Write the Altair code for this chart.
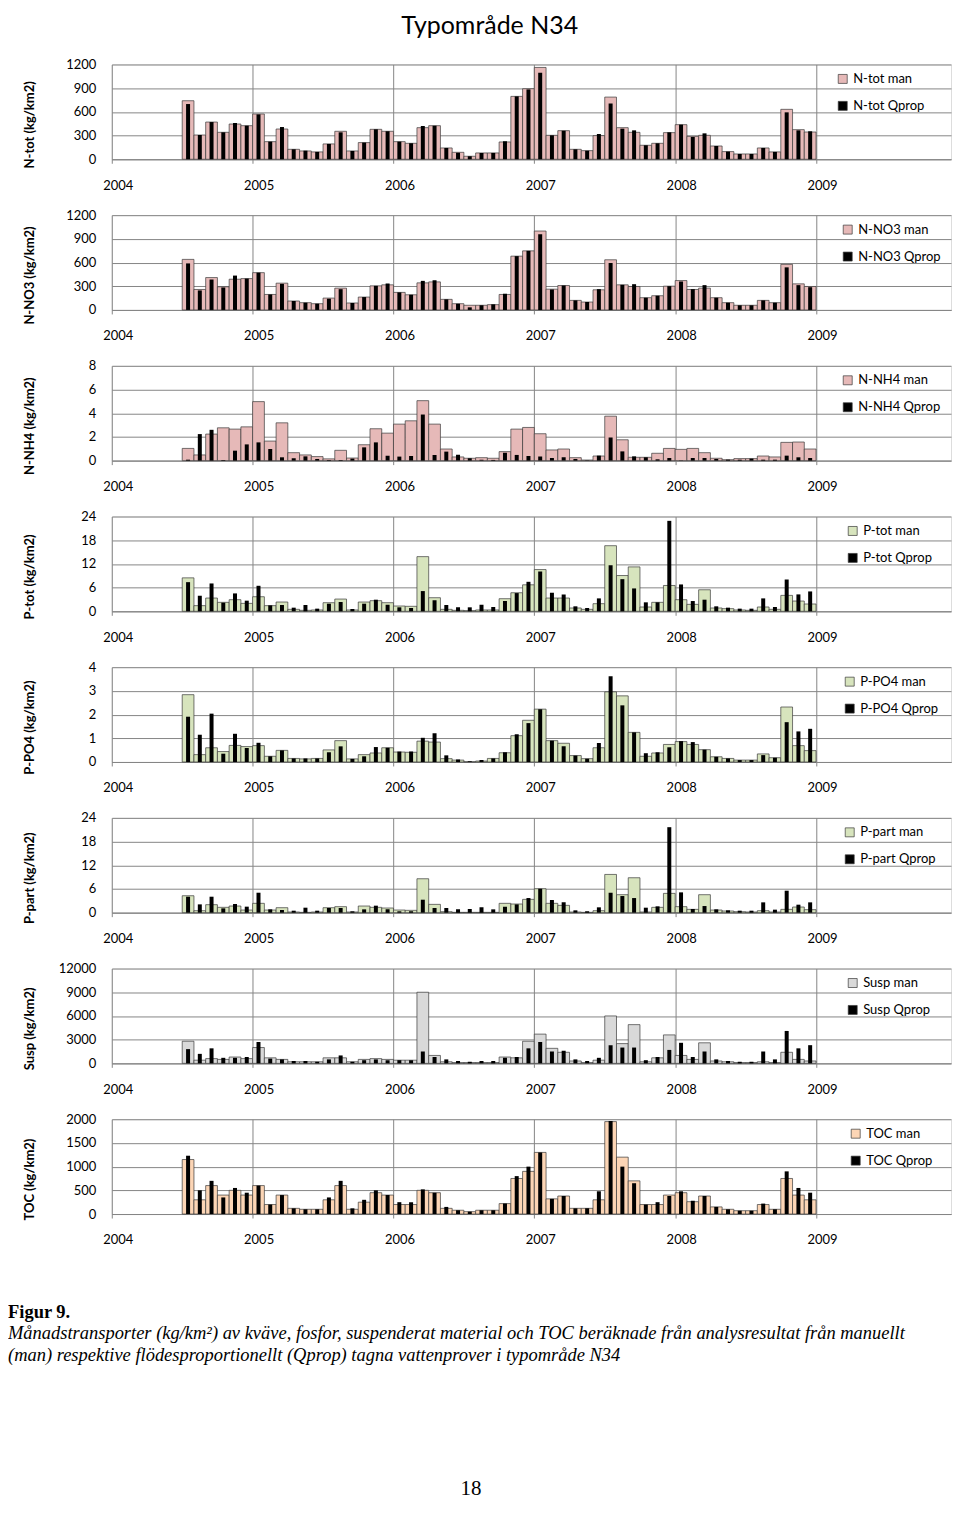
import altair as alt
import pandas as pd

# Months Jul 2004 .. Dec 2008 (offset in months from Jan 2004)
first_month = 6
n_months = 54

ntot_man = [741,307,471,341,446,425,573,223,383,126, 105,93,194,354,105,211,379,354,223,202,
            400,425,143,88,38,80,80,219,796,893, 1162,303,362,126,109,299,787,400,341,177,
            202,337,438,290,303,168,97,67,67,143, 93,632,375,345]
ntot_q = [699,307,471,341,459,425,568,223,408,126, 109,93,194,341,105,211,379,354,223,202,
          421,425,143,84,38,80,80,227,796,884, 1095,303,362,126,109,320,707,387,366,177,
          202,341,438,282,328,168,97,67,67,143, 93,594,366,354]

no3_man = [640,259,410,293,389,397,472,196,339,113, 92,79,150,276,88,163,305,318,222,192,
           343,355,134,79,59,59,67,196,681,748, 999,263,309,121,100,255,635,318,297,155,
           180,301,372,259,276,155,92,59,59,121, 92,577,330,297]
no3_q = [589,247,385,284,435,397,472,196,330,113, 92,79,142,263,88,163,305,334,222,192,
         368,376,134,79,33,59,71,205,681,748, 957,259,309,121,100,263,594,318,326,155,
         180,301,360,263,314,155,92,59,59,121, 92,539,314,288]

nh4_man = [1.03,0.48,2.24,2.77,2.66,2.85,4.98,1.65,3.19,0.67, 0.48,0.34,0.15,0.87,0.22,1.34,2.69,2.32,3.08,3.36,
           5.06,3.08,0.98,0.31,0.20,0.25,0.20,0.76,2.66,2.80, 2.27,0.90,0.98,0.25,0.05,0.39,3.75,1.76,0.28,0.28,
           0.62,1.03,0.95,1.03,0.67,0.20,0.08,0.17,0.17,0.39, 0.31,1.54,1.57,0.98]
nh4_q = [0.08,2.24,2.60,0.05,0.84,1.37,1.54,0.98,0.28,0.20, 0.36,0.14,0.05,0.05,0.17,1.12,1.54,0.42,0.34,0.39,
         3.89,0.48,0.76,0.50,0.20,0.08,0.06,0.67,0.48,0.39, 0.34,0.22,0.28,0.14,0.03,0.42,1.96,0.78,0.36,0.28,
         0.11,0.22,0.02,0.22,0.22,0.14,0.08,0.08,0.17,0.08, 0.08,0.42,0.28,0.22]

ptot_man = [8.47,1.43,3.36,2.27,2.94,2.01,3.69,1.43,2.35,0.50, 0.25,0.34,2.18,3.10,0.34,2.35,2.69,2.18,1.34,1.26,
            13.84,3.44,0.50,0.25,0.17,0.34,0.34,3.19,4.70,6.71, 10.57,3.36,3.36,0.84,0.50,1.93,16.61,9.06,11.24,1.09,
            2.27,6.54,2.94,1.76,5.45,0.84,0.67,0.34,0.25,1.09, 0.50,4.03,2.60,1.85]
ptot_q = [7.38,3.94,7.05,2.18,4.53,2.69,6.46,1.51,1.59,0.92, 1.59,0.67,1.93,2.35,0.59,1.93,2.94,1.68,1.01,0.84,
          5.12,2.77,1.59,1.01,1.01,1.68,1.09,2.60,4.61,7.47, 10.07,4.70,4.28,1.26,0.84,3.27,11.66,8.14,5.79,2.27,
          2.27,22.9,6.80,2.60,2.94,1.26,0.92,0.67,0.67,3.27, 1.09,8.05,4.28,5.03]

po4_man = [2.84,0.31,0.60,0.44,0.70,0.65,0.69,0.24,0.49,0.15, 0.13,0.15,0.51,0.90,0.13,0.31,0.38,0.60,0.42,0.41,
           0.88,0.84,0.14,0.08,0.01,0.04,0.15,0.39,1.11,1.76, 2.23,0.90,0.79,0.27,0.14,0.60,2.96,2.79,1.25,0.24,
           0.38,0.74,0.86,0.74,0.52,0.22,0.15,0.08,0.08,0.34, 0.18,2.32,0.69,0.48]
po4_q = [1.91,1.15,2.04,0.35,1.19,0.59,0.81,0.24,0.49,0.15, 0.15,0.15,0.41,0.66,0.13,0.24,0.63,0.60,0.44,0.44,
         1.02,1.21,0.28,0.11,0.03,0.08,0.15,0.41,1.17,1.64, 2.23,0.90,0.66,0.27,0.14,0.80,3.62,2.39,1.25,0.37,
         0.41,0.62,0.88,0.84,0.52,0.22,0.15,0.08,0.08,0.29, 0.18,1.68,1.29,1.40]

ppart_man = [4.29,0.50,2.02,1.35,1.68,0.67,2.36,0.67,1.26,0.17, 0.08,0.17,1.26,1.52,0.17,1.68,1.35,1.18,0.67,0.59,
             8.59,2.10,0.25,0.08,0.08,0.08,0.08,2.36,2.19,3.37, 6.06,2.36,1.85,0.17,0.08,0.50,9.68,4.55,8.84,0.17,
             1.35,4.88,1.52,0.84,4.55,0.67,0.42,0.25,0.17,0.50, 0.17,0.84,1.43,0.76]
ppart_q = [4.04,2.10,4.04,1.09,2.19,1.52,5.05,0.84,0.67,0.50, 1.26,0.50,1.18,1.18,0.34,0.84,1.77,0.84,0.34,0.34,
           3.28,1.18,1.18,0.84,0.93,1.35,0.84,1.52,2.10,3.70, 6.06,3.20,2.61,0.59,0.34,1.35,5.05,4.21,3.70,1.26,
           1.60,21.64,5.14,0.93,1.68,0.84,0.59,0.50,0.50,2.61, 0.76,5.56,2.02,2.61]

susp_man = [2800,400,600,500,800,600,2000,700,500,200, 200,200,700,700,200,500,600,500,400,400,
            9000,1000,200,100,100,100,100,800,700,2800, 3700,1900,1400,300,100,400,6000,2500,4900,200,
            700,3600,1000,500,2600,300,200,100,100,200, 100,1400,500,300]
susp_q = [1800,1200,1900,700,700,800,2700,600,500,300, 300,200,500,1000,200,400,500,400,400,400,
          1500,800,500,300,200,300,300,700,800,1900, 2700,1500,1600,500,300,700,2300,2000,2000,400,
          800,1700,2600,800,1500,500,300,200,200,1500, 500,4100,1900,2300]

toc_man = [1150,300,600,400,500,400,600,200,400,120, 100,100,300,600,100,250,450,400,200,200,
           500,450,120,80,50,80,80,220,750,900, 1300,320,380,120,120,300,1950,1200,700,200,
           200,400,450,260,380,150,100,70,70,200, 100,750,400,300]
toc_q = [1230,500,700,350,550,450,600,200,400,120, 100,100,350,700,120,300,500,400,250,250,
         520,450,150,80,50,80,80,220,800,1000, 1300,320,380,120,120,480,1960,1000,650,200,
         250,380,480,280,380,150,100,70,70,220, 100,900,550,450]

year_ticks = [0, 12, 24, 36, 48, 60]

PINK = "#E6B9B8"
GREEN = "#D7E4BD"
GRAY = "#D9D9D9"
PEACH = "#FCD5B5"
GRID = "#868686"
FONT = "Lato"

panels = [
    ("N-tot (kg/km2)", "N-tot man", "N-tot Qprop", ntot_man, ntot_q, PINK, [0, 300, 600, 900, 1200], 726),
    ("N-NO3 (kg/km2)", "N-NO3 man", "N-NO3 Qprop", no3_man, no3_q, PINK, [0, 300, 600, 900, 1200], 731),
    ("N-NH4 (kg/km2)", "N-NH4 man", "N-NH4 Qprop", nh4_man, nh4_q, PINK, [0, 2, 4, 6, 8], 731),
    ("P-tot (kg/km2)", "P-tot man", "P-tot Qprop", ptot_man, ptot_q, GREEN, [0, 6, 12, 18, 24], 736),
    ("P-PO4 (kg/km2)", "P-PO4 man", "P-PO4 Qprop", po4_man, po4_q, GREEN, [0, 1, 2, 3, 4], 733),
    ("P-part (kg/km2)", "P-part man", "P-part Qprop", ppart_man, ppart_q, GREEN, [0, 6, 12, 18, 24], 733),
    ("Susp (kg/km2)", "Susp man", "Susp Qprop", susp_man, susp_q, GRAY, [0, 3000, 6000, 9000, 12000], 736),
    ("TOC (kg/km2)", "TOC man", "TOC Qprop", toc_man, toc_q, PEACH, [0, 500, 1000, 1500, 2000], 739),
]

X_END = 71.5
W, H = 841, 95


def make_panel(ytitle, nman, nq, vman, vq, fill, ticks, legx):
    m = list(range(first_month, first_month + n_months))
    df = pd.DataFrame({"m": m, "man": vman, "q": vq})
    df["m1"] = df["m"] + 1
    df["q0"] = df["m"] + 0.33
    df["q1"] = df["m"] + 0.67
    df["s_man"] = nman
    df["s_q"] = nq

    xscale = alt.Scale(domain=[0, X_END], nice=False, zero=False)
    yscale = alt.Scale(domain=[ticks[0], ticks[-1]], nice=False, zero=True)
    cscale = alt.Scale(domain=[nman, nq], range=[fill, "#000000"])
    legend = alt.Legend(
        title=None, orient="none", legendX=legx, legendY=8,
        symbolType="square", symbolSize=81, symbolStrokeColor="#3a3a3a",
        symbolStrokeWidth=0.7, labelFont=FONT, labelFontSize=13,
        labelColor="black", labelOffset=4, rowPadding=13,
    )
    xaxis = alt.Axis(
        values=year_ticks, title=None, grid=True, gridColor=GRID,
        domainColor=GRID, tickColor=GRID, tickSize=4,
        labelExpr="'' + (2004 + datum.value / 12)",
        labelFont=FONT, labelFontSize=13, labelColor="black",
        labelPadding=16, labelFlush=False, labelOffset=6, labelOverlap=False,
    )
    yaxis = alt.Axis(
        values=ticks, format="d", grid=True, gridColor=GRID, domain=False,
        ticks=False, labelFont=FONT, labelFontSize=13, labelColor="black",
        labelPadding=16, labelOverlap=False, labelFlush=False,
        title=ytitle, titleFont=FONT, titleFontSize=13,
        titleFontWeight="bold", titleColor="black", titleAngle=270,
        titleX=-82, titleY=60, titleAlign="center", titleBaseline="middle",
    )
    base = alt.Chart(df)
    man_bars = base.mark_bar(stroke="#3a3a3a", strokeWidth=0.7).encode(
        x=alt.X("m:Q", scale=xscale, axis=xaxis),
        x2="m1:Q",
        y=alt.Y("man:Q", scale=yscale, axis=yaxis),
        y2=alt.datum(0),
        color=alt.Color("s_man:N", scale=cscale, legend=legend),
    )
    q_bars = base.mark_bar(strokeWidth=0).encode(
        x=alt.X("q0:Q", scale=xscale, axis=xaxis),
        x2="q1:Q",
        y=alt.Y("q:Q", scale=yscale, axis=yaxis),
        y2=alt.datum(0),
        color=alt.Color("s_q:N", scale=cscale, legend=legend),
    )
    return alt.layer(man_bars, q_bars).properties(width=W, height=H)


charts = [make_panel(*p) for p in panels]

# caption block
cap_fig = "Figur 9."
cap_l1 = "Månadstransporter (kg/km²) av kväve, fosfor, suspenderat material och TOC beräknade från analysresultat från manuellt"
cap_l2 = "(man) respektive flödesproportionellt (Qprop) tagna vattenprover i typområde N34"
page_no = "18"

CAP = 18.5
c1 = alt.Chart(pd.DataFrame({"t": [cap_fig]})).mark_text(
    font="Liberation Serif", fontSize=CAP, fontWeight="bold", align="left",
    baseline="middle", color="black").encode(
    x=alt.value(-104), y=alt.value(42), text="t:N")
c2 = alt.Chart(pd.DataFrame({"t": [cap_l1]})).mark_text(
    font="Liberation Serif", fontSize=CAP, fontStyle="italic", align="left",
    baseline="middle", color="black").encode(
    x=alt.value(-104), y=alt.value(63), text="t:N")
c3 = alt.Chart(pd.DataFrame({"t": [cap_l2]})).mark_text(
    font="Liberation Serif", fontSize=CAP, fontStyle="italic", align="left",
    baseline="middle", color="black").encode(
    x=alt.value(-104), y=alt.value(85), text="t:N")
c4 = alt.Chart(pd.DataFrame({"t": [page_no]})).mark_text(
    font="Liberation Serif", fontSize=21, align="center",
    baseline="middle", color="black").encode(
    x=alt.value(360), y=alt.value(220), text="t:N")
caption = alt.layer(c1, c2, c3, c4).properties(
    width=W, height=230, view=alt.ViewBackground(stroke=None, strokeWidth=0))

chart = alt.vconcat(*charts, caption, spacing=56, bounds="flush").resolve_scale(
    color="independent"
).resolve_legend(color="independent").properties(
    title=alt.TitleParams(
        text="Typområde N34", font=FONT, fontSize=25, fontWeight="normal",
        color="black", anchor="middle", dx=10, offset=19,
    ),
    padding={"left": 0, "top": 4, "right": 0, "bottom": 0},
).configure_view(stroke=None, strokeWidth=0).configure(background="white")

chart.save("out.html", embed_options={"renderer": "svg", "actions": False})
